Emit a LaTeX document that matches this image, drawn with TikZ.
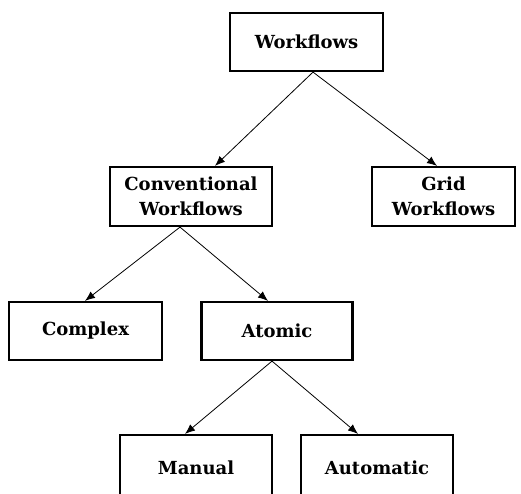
\documentclass[tikz,border=0pt]{standalone}
\usepackage{fontspec}
\setmainfont{DejaVu Serif}
\usepackage{tikz}
\usetikzlibrary{arrows.meta, positioning, calc}

\begin{document}
\begin{tikzpicture}[x=1pt, y=1pt,
    box/.style={draw, line width=2.2pt, rectangle, minimum height=58pt, align=center, inner sep=0pt, font=\fontsize{18}{25}\selectfont\bfseries},
    link/.style={-{Latex[length=10pt, width=8pt]}, line width=0.8pt}]
\useasboundingbox (0,0) rectangle (521,-493);
% Top level
\node[box, minimum width=153pt] (wf) at (306.5,-42) {Workflows};

% Second level
\node[box, minimum width=162pt, minimum height=59pt] (conv) at (191,-196.5) {Conventional\\Workflows};
\node[box, minimum width=143pt, minimum height=59pt] (grid) at (443.5,-196.5) {Grid\\Workflows};

% Third level
\node[box, minimum width=153pt] (cplx) at (85.5,-331) {Complex};
\node[box, minimum width=151pt] (atom) at (277,-331) {Atomic};

% Fourth level (cut off at the bottom)
\node[box, minimum width=152pt, minimum height=66pt] (man) at (196,-468) {Manual};
\node[box, minimum width=152pt, minimum height=66pt] (auto) at (377,-468) {Automatic};

% Connectors
\draw[link] ([xshift=6.5pt]wf.south) -- ([xshift=24pt]conv.north);
\draw[link] ([xshift=6.5pt]wf.south) -- ([xshift=-6.5pt]grid.north);
\draw[link] ([xshift=-11pt]conv.south) -- ([xshift=-0.5pt]cplx.north);
\draw[link] ([xshift=-11pt]conv.south) -- ([xshift=-9pt]atom.north);
\draw[link] ([xshift=-5pt]atom.south) -- ([xshift=-11pt]man.north);
\draw[link] ([xshift=-5pt]atom.south) -- ([xshift=-19pt]auto.north);
\end{tikzpicture}
\end{document}
